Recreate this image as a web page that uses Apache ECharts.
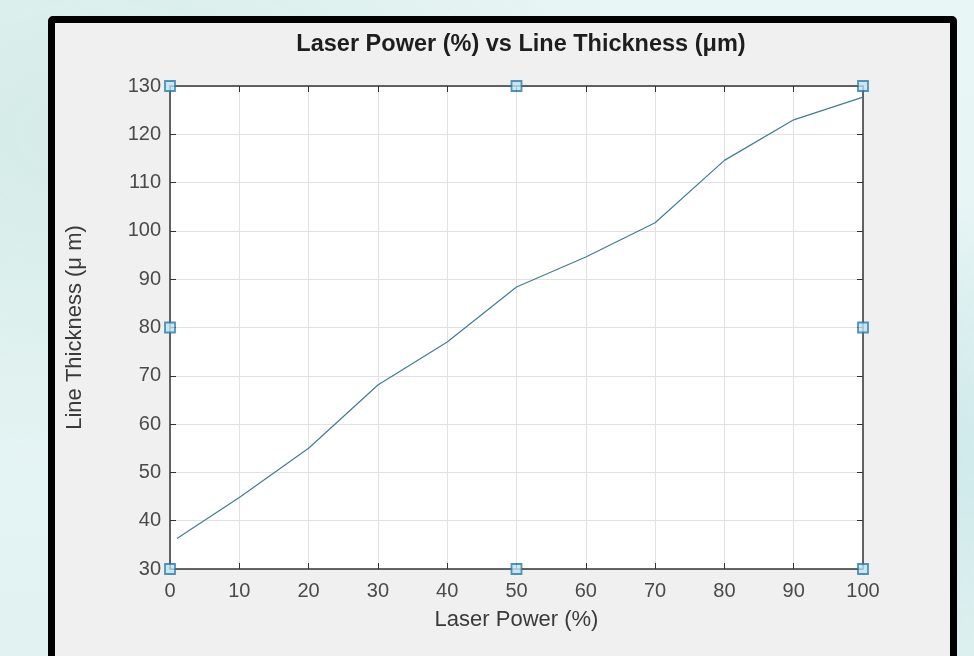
<!DOCTYPE html>
<html>
<head>
<meta charset="utf-8">
<script src="https://cdn.jsdelivr.net/npm/echarts@6/dist/echarts.min.js"></script>
<style>
  html, body { margin: 0; padding: 0; width: 974px; height: 656px; overflow: hidden; }
  body {
    background: radial-gradient(ellipse at 10% 20%, #d3ebe6 0%, rgba(211,235,230,0) 45%),
                radial-gradient(ellipse at 95% 70%, #cfe9ea 0%, rgba(207,233,234,0) 40%),
                linear-gradient(180deg, #e9f6f6 0%, #e2f2f2 100%);
  }
  #frame {
    position: absolute; left: 48px; top: 16px; width: 895px; height: 660px;
    background: #f0f0f0; border: 7px solid #000; border-radius: 5px;
  }
  #main { position: absolute; left: 0; top: 0; width: 974px; height: 656px; }
</style>
</head>
<body>
<div id="frame"></div>
<div id="main"></div>
<script>
// laser power (%) and measured line thickness (um)
var power = [1, 10, 20, 30, 40, 50, 60, 70, 80, 90, 100];
var thickness = [36.3, 44.8, 55.0, 68.1, 77.0, 88.4, 94.6, 101.7, 114.6, 123.0, 127.7];

// matlab selection handles around the axes box
var handleX = [0, 50, 100, 0, 100, 0, 50, 100];
var handleY = [30, 30, 30, 80, 80, 130, 130, 130];

var font = 'Liberation Sans, Arial, sans-serif';

var myChart = echarts.init(document.getElementById('main'));

var lineData = power.map(function (p, i) { return [p, thickness[i]]; });
var handleData = handleX.map(function (x, i) { return [x, handleY[i]]; });

var tickStyle = { show: true, inside: true, length: 6, lineStyle: { color: '#333', width: 1 } };
var boxLine = { show: true, onZero: false, lineStyle: { color: '#333', width: 1.5 } };

var option = {
    animation: false,
    title: {
        text: 'Laser Power (%) vs Line Thickness (\u03bcm)',
        left: 516,
        textAlign: 'center',
        top: 28,
        textStyle: { fontFamily: font, fontSize: 23.5, fontWeight: 'bold', color: '#1e1e1e' }
    },
    grid: { left: 170, top: 86, right: 111, bottom: 87, show: true, backgroundColor: '#fff', borderWidth: 0 },
    xAxis: [
        {
            type: 'value',
            min: 0, max: 100, interval: 10,
            name: 'Laser Power (%)',
            nameLocation: 'middle',
            nameGap: 40,
            nameTextStyle: { fontFamily: font, fontSize: 22, color: '#3a3a3a' },
            axisLine: boxLine,
            axisTick: tickStyle,
            axisLabel: { fontFamily: font, fontSize: 20, color: '#4a4a4a', margin: 12 },
            splitLine: { show: true, lineStyle: { color: '#e2e2e2', width: 1 } }
        },
        {
            type: 'value', position: 'top',
            min: 0, max: 100, interval: 10,
            axisLine: boxLine,
            axisTick: tickStyle,
            axisLabel: { show: false },
            splitLine: { show: false }
        }
    ],
    yAxis: [
        {
            type: 'value',
            min: 30, max: 130, interval: 10,
            name: 'Line Thickness (\u03bc m)',
            nameLocation: 'middle',
            nameGap: 84,
            nameRotate: 90,
            nameTextStyle: { fontFamily: font, fontSize: 22, color: '#3a3a3a' },
            axisLine: boxLine,
            axisTick: tickStyle,
            axisLabel: { fontFamily: font, fontSize: 20, color: '#4a4a4a', margin: 9 },
            splitLine: { show: true, lineStyle: { color: '#e2e2e2', width: 1 } }
        },
        {
            type: 'value', position: 'right',
            min: 30, max: 130, interval: 10,
            axisLine: boxLine,
            axisTick: tickStyle,
            axisLabel: { show: false },
            splitLine: { show: false }
        }
    ],
    series: [
        {
            name: 'Thickness',
            type: 'line',
            data: lineData,
            showSymbol: false,
            lineStyle: { color: '#3f7e98', width: 1.2 },
            z: 3
        },
        {
            name: 'handles',
            type: 'scatter',
            data: handleData,
            symbol: 'rect',
            symbolSize: 10,
            itemStyle: { color: '#bfe4f6', borderColor: '#2b7aa6', borderWidth: 1.8 },
            z: 5
        }
    ]
};
myChart.setOption(option);
</script>
</body>
</html>
